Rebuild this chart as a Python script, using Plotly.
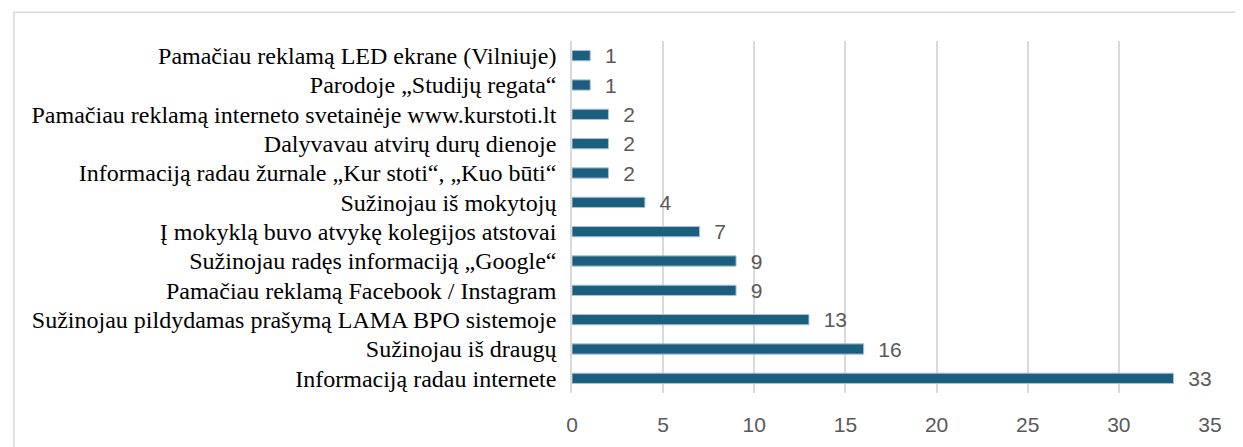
import plotly.graph_objects as go

categories = [
    "Informaciją radau internete",
    "Sužinojau iš draugų",
    "Sužinojau pildydamas prašymą LAMA BPO sistemoje",
    "Pamačiau reklamą Facebook / Instagram",
    "Sužinojau radęs informaciją „Google“",
    "Į mokyklą buvo atvykę kolegijos atstovai",
    "Sužinojau iš mokytojų",
    "Informaciją radau žurnale „Kur stoti“, „Kuo būti“",
    "Dalyvavau atvirų durų dienoje",
    "Pamačiau reklamą interneto svetainėje www.kurstoti.lt",
    "Parodoje „Studijų regata“",
    "Pamačiau reklamą LED ekrane (Vilniuje)",
]
values = [33, 16, 13, 9, 9, 7, 4, 2, 2, 2, 1, 1]
x_ticks = [0, 5, 10, 15, 20, 25, 30, 35]

fig = go.Figure(go.Bar(
    y=categories, x=values, orientation="h",
    marker=dict(color="#1b5e7e", line=dict(color="#a8c4d4", width=1)),
    width=0.35,
    text=["  " + str(v) for v in values], textposition="outside",
    constraintext="none",
    textfont=dict(family="Liberation Sans, Arial, sans-serif", size=21, color="#595959"),
    cliponaxis=False,
))

fig.update_layout(
    width=1243, height=447,
    margin=dict(l=564, r=41, t=33, b=62, autoexpand=False),
    paper_bgcolor="white", plot_bgcolor="white",
    showlegend=False,
    xaxis=dict(range=[0, 35], tickvals=x_ticks, showgrid=True, gridcolor="#d9d9d9",
               gridwidth=1.5, zeroline=False, showline=False, ticks="", automargin=False,
               tickfont=dict(family="Liberation Sans, Arial, sans-serif", size=21, color="#595959"),
               ticklabelstandoff=17),
    yaxis=dict(categoryorder="array", categoryarray=categories, showgrid=False,
               showline=True, linecolor="#d9d9d9", linewidth=1.5, ticks="", automargin=False,
               tickfont=dict(family="Liberation Serif, Times New Roman, serif", size=24, color="#000000"),
               ticklabelstandoff=9),
    shapes=[dict(type="rect", xref="paper", yref="paper", x0=-0.8746, x1=1.2,
                 y0=-0.25, y1=1.082, line=dict(color="#d9d9d9", width=1.5),
                 fillcolor="rgba(0,0,0,0)", layer="below")],
)

fig.write_html("out.html")
